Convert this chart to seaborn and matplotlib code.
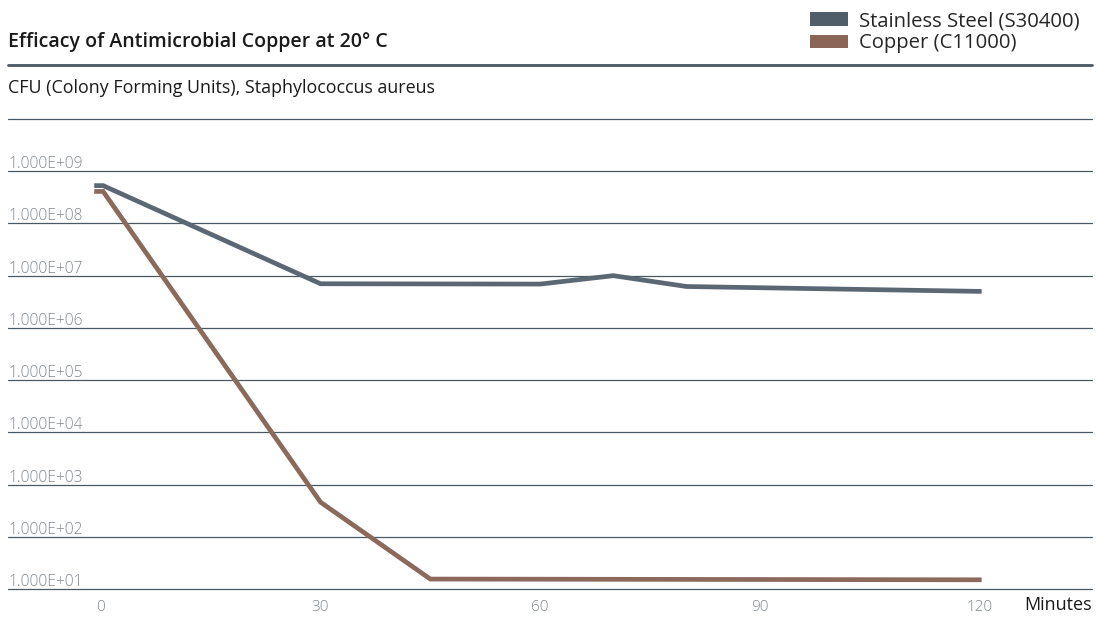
import matplotlib
matplotlib.use("Agg")
import matplotlib.pyplot as plt
import matplotlib.transforms as mtransforms
from matplotlib.patches import Patch
import seaborn as sns
import pandas as pd

# ---- data ----
steel_minutes = [-0.6, 0.3, 30, 60, 70, 80, 120]
steel_cfu = [5.3e8, 5.3e8, 7.0e6, 6.9e6, 1.0e7, 6.2e6, 5.0e6]
copper_minutes = [-0.6, 0.3, 30, 45, 120]
copper_cfu = [4.1e8, 4.1e8, 4.6e2, 15.5, 15.0]
series_names = ["Stainless Steel (S30400)", "Copper (C11000)"]
series_colors = ["#5b6874", "#8b6a5b"]
legend_colors = ["#4f5e69", "#8b6556"]
x_ticks = [0, 30, 60, 90, 120]
y_tick_values = [1e1, 1e2, 1e3, 1e4, 1e5, 1e6, 1e7, 1e8, 1e9]
y_tick_labels = ["1.000E+01", "1.000E+02", "1.000E+03", "1.000E+04", "1.000E+05",
                 "1.000E+06", "1.000E+07", "1.000E+08", "1.000E+09"]
y_grid_values = y_tick_values + [1e10]

df = pd.concat([
    pd.DataFrame({"Minutes": steel_minutes, "CFU": steel_cfu, "Series": series_names[0]}),
    pd.DataFrame({"Minutes": copper_minutes, "CFU": copper_cfu, "Series": series_names[1]}),
])

sns.set_style("white")
plt.rcParams["font.family"] = ["Open Sans", "DejaVu Sans"]

W, H = 1105, 642
fig = plt.figure(figsize=(W / 100, H / 100), dpi=100)
left, right, top, bottom = 8, 1092, 119, 589
ax = fig.add_axes([left / W, 1 - bottom / H, (right - left) / W, (bottom - top) / H])

sns.lineplot(data=df, x="Minutes", y="CFU", hue="Series", palette=series_colors,
             hue_order=series_names, ax=ax, linewidth=3.4, legend=False,
             estimator=None, sort=False)
for ln in ax.get_lines():
    ln.set_solid_capstyle("projecting")
    ln.set_solid_joinstyle("miter")

ax.set_yscale("log")
ax.set_ylim(10, 1e10)
ax.set_xlim(-12.7, 135.4)

for s in ax.spines.values():
    s.set_visible(False)

for v in y_grid_values:
    ax.axhline(v, color="#4a5862", linewidth=0.9, zorder=0, clip_on=False)

ax.set_yticks([])
ax.yaxis.set_minor_locator(matplotlib.ticker.NullLocator())

off = mtransforms.offset_copy(ax.get_yaxis_transform(), fig=fig, x=1, y=3, units="dots")
for v, lab in zip(y_tick_values, y_tick_labels):
    ax.text(0, v, lab, transform=off, ha="left", va="baseline", fontsize=11.2,
            color="#80888f", fontweight="light")

ax.set_xticks(x_ticks)
ax.set_xticklabels([str(t) for t in x_ticks])
ax.tick_params(axis="x", length=0, pad=8, labelsize=11, labelcolor="#80888f")
for t in ax.get_xticklabels():
    t.set_fontweight("light")
ax.set_xlabel("")
ax.set_ylabel("")

fig.text(right / W, 1 - 605 / H, "Minutes", ha="right", va="center", fontsize=13, color="#1a1a1a")

fig.text(left / W, 1 - 42 / H, "Efficacy of Antimicrobial Copper at 20° C", ha="left",
         va="center", fontsize=14, fontweight="semibold", color="#1a1a1a")
fig.lines.append(matplotlib.lines.Line2D([left / W, right / W], [1 - 65 / H, 1 - 65 / H],
                                         transform=fig.transFigure, color="#4a5862", linewidth=2))
fig.text(left / W, 1 - 88 / H, "CFU (Colony Forming Units), Staphylococcus aureus", ha="left",
         va="center", fontsize=12.9, color="#1a1a1a")

handles = [Patch(facecolor=c, edgecolor="none", label=n) for c, n in zip(legend_colors, series_names)]
fig.legend(handles=handles, loc="upper right", bbox_to_anchor=(1080 / W, 1 - 11 / H),
           frameon=False, fontsize=14.6, handlelength=1.9, handleheight=0.64,
           handletextpad=0.55, labelspacing=0.12, borderpad=0.0, borderaxespad=0)

fig.savefig("out.png", dpi=100)
